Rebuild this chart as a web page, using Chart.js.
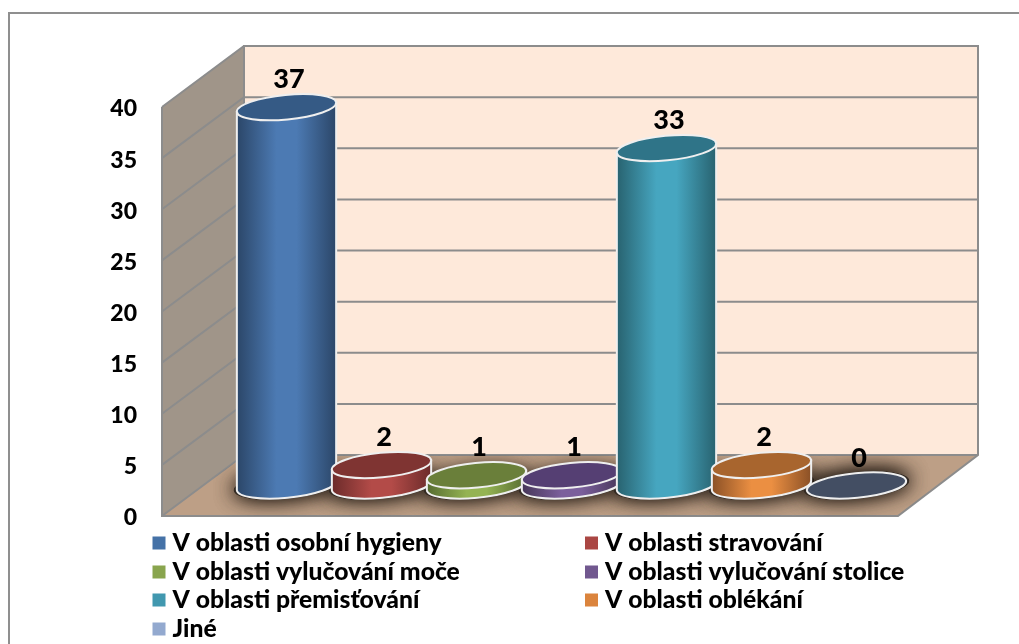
<!DOCTYPE html>
<html><head><meta charset="utf-8">
<style>html,body{margin:0;padding:0;background:#fff}canvas{display:block}</style>
<script src="https://cdn.jsdelivr.net/npm/chart.js@4"></script>
</head><body>
<canvas id="c" width="1019" height="644"></canvas>
<script>
const seriesNames = ['V oblasti osobní hygieny','V oblasti stravování','V oblasti vylučování moče','V oblasti vylučování stolice','V oblasti přemisťování','V oblasti oblékání','Jiné'];
const seriesValues = [37,2,1,1,33,2,0];
const categories = [''];
const legendColors = ['#4572A7','#AA4643','#89A54E','#71588F','#4198AF','#DB843D','#93A9CF'];
const bodyColors = ['#4C7AB3','#B34B48','#94B353','#7B5F9C','#46A6C0','#EB8F42','#93A9CF'];
const edgeColors = ['#2B4668','#6B2B2A','#566B30','#463658','#28626F','#8A5026','#3E4A5E'];
const topColors = ['#355A85','#7F3432','#6A7F3A','#553F73','#2F7488','#A8652E','#434E63'];
const DX = 82, DY = -61, ROT = -0.095, RY = 12.3;
const FONT = '900 24.7px Lato, Carlito, sans-serif';

const scene = {
  id: 'scene',
  beforeDraw(chart) {
    const c = chart.ctx, a = chart.chartArea, y = chart.scales.y;
    c.save();
    c.fillStyle = '#fff'; c.fillRect(0,0,chart.width,chart.height);
    c.strokeStyle = '#8f8f8f'; c.lineWidth = 2;
    c.beginPath(); c.moveTo(9,chart.height+2); c.lineTo(9,13); c.lineTo(chart.width+2,13); c.stroke();
    const L=a.left,R=a.right,T=a.top,B=a.bottom;
    const quad=(p,f)=>{c.beginPath();p.forEach((q,i)=>i?c.lineTo(q[0],q[1]):c.moveTo(q[0],q[1]));c.closePath();c.fillStyle=f;c.fill();};
    quad([[L+DX,T+DY],[R+DX-2,T+DY],[R+DX-2,B+DY],[L+DX,B+DY]],'#FEE9DA');
    quad([[L,T],[L+DX,T+DY],[L+DX,B+DY],[L,B]],'#A09589');
    quad([[L,B],[L+DX,B+DY],[R+DX-2,B+DY],[R,B]],'#BD9F86');
    c.strokeStyle='#8C8C8C'; c.lineWidth=2;
    y.ticks.forEach(t=>{
      const p=y.getPixelForValue(t.value);
      c.beginPath(); c.moveTo(L,p); c.lineTo(L+DX,p+DY); c.lineTo(R+DX-2,p+DY); c.stroke();
    });
    c.beginPath(); c.moveTo(L,T); c.lineTo(L,B); c.lineTo(R,B); c.lineTo(R+DX-2,B+DY); c.lineTo(R+DX-2,T+DY); c.lineTo(L+DX,T+DY); c.lineTo(L+DX,B+DY); c.stroke();
    c.restore();
  },
  beforeDatasetsDraw(chart) {
    const c = chart.ctx;
    const a = chart.chartArea;
    const bars = chart.data.datasets.map((d,i)=>{
      const e = chart.getDatasetMeta(i).data[0];
      return {i, cx:e.x+DX/2+0.5, top:e.y+DY/2, base:e.base+DY/2, rx:e.width/2*1.05, v:d.data[0]};
    });
    // soft shadows on the floor
    c.save();
    c.beginPath(); c.moveTo(a.left,a.bottom); c.lineTo(a.left+DX,a.bottom+DY); c.lineTo(a.right+DX-2,a.bottom+DY); c.lineTo(a.right,a.bottom); c.closePath(); c.clip();
    bars.forEach(b=>{
      c.save();
      c.shadowColor='rgba(30,22,15,.9)'; c.shadowBlur=20; c.shadowOffsetX=0; c.shadowOffsetY=-1;
      c.fillStyle='#332a22';
      c.beginPath(); c.ellipse(b.cx,b.base,b.rx+3,RY+1,ROT,0,Math.PI*2); c.fill(); c.fill();
      c.restore();
    });
    c.restore();
    bars.forEach(b=>{
      const cs=Math.cos(ROT), sn=Math.sin(ROT), ex=b.rx*cs, ey=b.rx*sn;
      c.save();
      c.lineWidth=2; c.strokeStyle='#EFEFEF';
      if (b.base-b.top>0.5){
        const g=c.createLinearGradient(b.cx-b.rx,0,b.cx+b.rx,0);
        g.addColorStop(0,edgeColors[b.i]); g.addColorStop(.4,bodyColors[b.i]); g.addColorStop(.6,bodyColors[b.i]); g.addColorStop(1,edgeColors[b.i]);
        c.fillStyle=g;
        c.beginPath();
        c.ellipse(b.cx,b.base,b.rx,RY,ROT,0,Math.PI,false);
        c.lineTo(b.cx-ex,b.top-ey);
        c.lineTo(b.cx+ex,b.top+ey);
        c.closePath();
        c.fill(); c.stroke();
      }
      c.fillStyle=topColors[b.i];
      c.beginPath(); c.ellipse(b.cx,b.top,b.rx,RY,ROT,0,Math.PI*2); c.fill(); c.stroke();
      c.restore();
    });
    // value labels
    c.save();
    c.font='900 27px Lato, Carlito, sans-serif'; c.fillStyle='#000'; c.textAlign='center'; c.textBaseline='middle';
    bars.forEach(b=>c.fillText(String(b.v),b.cx+2.5,b.top-27.5));
    c.restore();
    return false;
  },
  afterDraw(chart){
    const c=chart.ctx;
    const cols=[152.5,585], rows=[543,572,600,629];
    const place=[[0,0],[1,0],[0,1],[1,1],[0,2],[1,2],[0,3]];
    c.save();
    c.font=FONT; c.textBaseline='middle'; c.textAlign='left'; c.fillStyle='#000';
    chart.data.datasets.forEach((d,i)=>{
      const x=cols[place[i][0]], y=rows[place[i][1]];
      c.fillStyle=legendColors[i]; c.fillRect(x,y-6.5,13,13);
      c.fillStyle='#000'; c.fillText(d.label,x+20,y);
    });
    c.restore();
  }
};

new Chart(document.getElementById('c'),{
  type:'bar',
  data:{labels:categories,datasets:seriesNames.map((n,i)=>({label:n,data:[seriesValues[i]],backgroundColor:legendColors[i]}))},
  plugins:[scene],
  options:{
    responsive:false,animation:false,
    layout:{padding:{left:62,top:107,right:121,bottom:128}},
    datasets:{bar:{categoryPercentage:0.9035,barPercentage:1}},
    plugins:{legend:{display:false},tooltip:{enabled:false},title:{display:false}},
    scales:{
      x:{display:false,offset:true},
      y:{min:0,max:40,afterFit(s){s.width=100;},border:{display:false},grid:{display:false,drawTicks:false},
        ticks:{stepSize:5,padding:25,labelOffset:2,color:'#000',font:{family:'Lato, Carlito, sans-serif',size:23,weight:'900'}}}
    }
  }
});
</script>
</body></html>
